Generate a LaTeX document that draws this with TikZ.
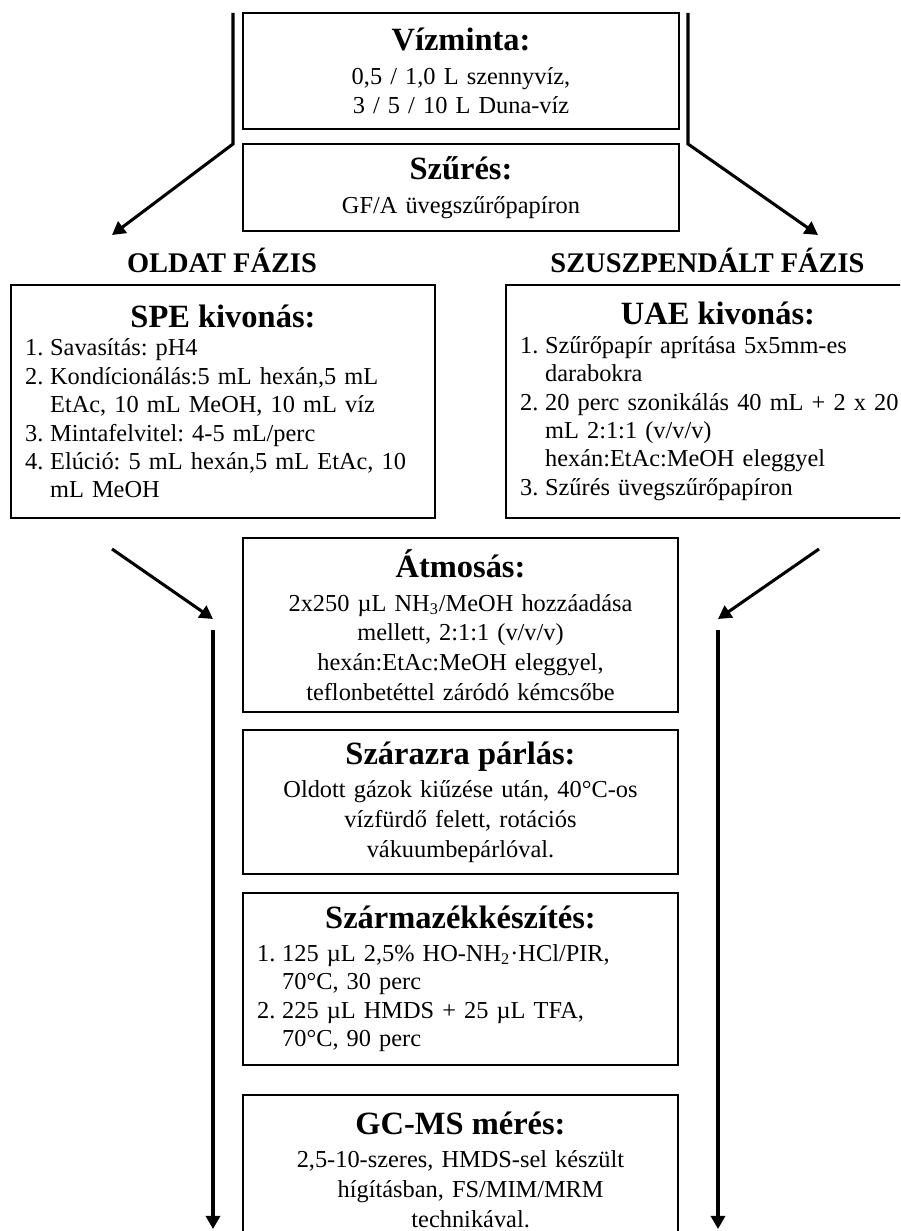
\documentclass[tikz,border=0pt]{standalone}
\usepackage{fontspec}
\setmainfont{Liberation Serif}
\usetikzlibrary{arrows.meta}
\setlength{\parindent}{0pt}
\frenchspacing
\newcommand{\fej}[2][2pt]{{\centering\fontsize{16}{19}\selectfont\bfseries #2\par}\vspace{#1}}
\newcommand{\lnr}[1]{\makebox[12.3pt][l]{#1.}}
\newcommand{\bek}{\hspace*{12.3pt}}

\tikzset{
  lepes/.style={draw, line width=0.8pt, inner xsep=7pt, inner ysep=0pt,
    font=\fontsize{12}{14.6}\selectfont},
  kozep/.style={lepes, align=center},
  lista/.style={lepes, align=left, font=\fontsize{12}{14}\selectfont},
  fazis/.style={font=\fontsize{14}{16}\selectfont\bfseries},
  vonal/.style={line width=1.5pt},
  nyil/.style={line width=1.5pt, -{Triangle[length=6.5pt,width=7pt]}}
}

\begin{document}
\begin{tikzpicture}[x=0.4926pt, y=-0.4926pt]
  \useasboundingbox (0,0) rectangle (900,1231);
  \clip (0,0) rectangle (900,1231);

  % felso dobozok
  \node[kozep, minimum width=214.8pt, text width=200.8pt, minimum height=57.1pt] (viz) at (461,71)
    {\fej{Vízminta:}0,5 / 1,0 L szennyvíz,\\ 3 / 5 / 10 L Duna-víz};
  \node[kozep, minimum width=214.8pt, text width=200.8pt, minimum height=42.9pt] (szur) at (461,187.5)
    {\fej{Szűrés:}GF/A üvegszűrőpapíron};

  \node[fazis] (oldat) at (222,260) {OLDAT FÁZIS};
  \node[fazis] (szusz) at (707.5,260) {SZUSZPENDÁLT FÁZIS};

  % kivonas
  \node[lista, minimum width=208.9pt, text width=194.9pt, minimum height=114.8pt] (spe) at (223,401.5)
    {\fej[0pt]{SPE kivonás:}\lnr{1}Savasítás: pH4\\
     \lnr{2}Kondícionálás:5 mL hexán,5 mL\\
     \bek EtAc, 10 mL MeOH, 10 mL víz\\
     \lnr{3}Mintafelvitel: 4-5 mL/perc\\
     \lnr{4}Elúció: 5 mL hexán,5 mL EtAc, 10\\
     \bek mL MeOH};
  \node[lista, minimum width=208.9pt, text width=194.9pt, minimum height=114.8pt] (uae) at (718,401.5)
    {\fej[0pt]{UAE kivonás:}\lnr{1}Szűrőpapír aprítása 5x5mm-es\\
     \bek darabokra\\
     \lnr{2}20 perc szonikálás 40 mL + 2 x 20\\
     \bek mL 2:1:1 (v/v/v)\\
     \bek hexán:EtAc:MeOH eleggyel\\
     \lnr{3}Szűrés üvegszűrőpapíron};

  % kozos lepesek
  \node[kozep, minimum width=214.3pt, text width=200.3pt, minimum height=85.7pt] (atm) at (460.5,625)
    {\fej{Átmosás:}2x250 µL NH\textsubscript{3}/MeOH hozzáadása\\
     mellett, 2:1:1 (v/v/v)\\
     hexán:EtAc:MeOH eleggyel,\\
     teflonbetéttel záródó kémcsőbe};
  \node[kozep, minimum width=214.3pt, text width=200.3pt, minimum height=70.9pt] (szar) at (460.5,802)
    {\fej{Szárazra párlás:}Oldott gázok kiűzése után, 40°C-os\\
     vízfürdő felett, rotációs\\
     vákuumbepárlóval.};
  \node[lista, minimum width=214.3pt, text width=200.3pt, minimum height=84.7pt] (szarm) at (460.5,979)
    {\fej{Származékkészítés:}\lnr{1}125 µL 2,5\% HO-NH\textsubscript{2}·HCl/PIR,\\
     \bek 70°C, 30 perc\\
     \lnr{2}225 µL HMDS + 25 µL TFA,\\
     \bek 70°C, 90 perc};
  \node[kozep, minimum width=214.3pt, text width=200.3pt, minimum height=73.4pt] (gcms) at (460.5,1169.5)
    {\fej{GC-MS mérés:}2,5-10-szeres, HMDS-sel készült\\
     \hspace*{10pt}hígításban, FS/MIM/MRM\\
     \hspace*{10pt}technikával.};

  % nyilak
  \coordinate (bal0) at (233,13);
  \coordinate (bal1) at (233,144);
  \coordinate (balhegy) at (112,235);
  \coordinate (jobb0) at (688,13);
  \coordinate (jobb1) at (688,144);
  \coordinate (jobbhegy) at (818,235);
  \draw[nyil] (bal0) -- (bal1) -- (balhegy);
  \draw[nyil] (jobb0) -- (jobb1) -- (jobbhegy);

  \coordinate (bal2) at (112,549);
  \coordinate (bal3) at (213,619);
  \coordinate (bal4) at (213,630);
  \coordinate (balveg) at (213,1229);
  \coordinate (jobb2) at (819,549);
  \coordinate (jobb3) at (718,619);
  \coordinate (jobb4) at (718,630);
  \coordinate (jobbveg) at (718,1229);
  \draw[nyil] (bal2) -- (bal3);
  \draw[nyil] (jobb2) -- (jobb3);
  \draw[nyil] (bal4) -- (balveg);
  \draw[nyil] (jobb4) -- (jobbveg);
\end{tikzpicture}
\end{document}
